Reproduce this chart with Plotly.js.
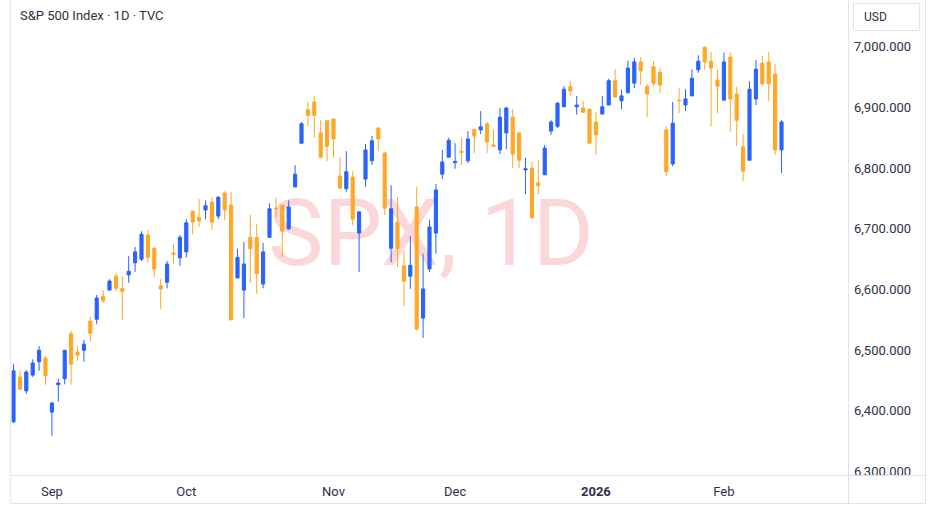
<!DOCTYPE html>
<html>
<head>
<meta charset="utf-8">
<script src="https://cdn.plot.ly/plotly-3.0.1.min.js"></script>
<style>
  html, body { margin: 0; padding: 0; background: #ffffff; }
  #chart { width: 936px; height: 510px; }
</style>
</head>
<body>
<div id="chart"></div>
<script>
// ---- Data ----
const dates = [
  '2025-08-22','2025-08-25','2025-08-26','2025-08-27','2025-08-28','2025-08-29',
  '2025-09-02','2025-09-03','2025-09-04','2025-09-05',
  '2025-09-08','2025-09-09','2025-09-10','2025-09-11','2025-09-12',
  '2025-09-15','2025-09-16','2025-09-17','2025-09-18','2025-09-19',
  '2025-09-22','2025-09-23','2025-09-24','2025-09-25','2025-09-26',
  '2025-09-29','2025-09-30',
  '2025-10-01','2025-10-02','2025-10-03',
  '2025-10-06','2025-10-07','2025-10-08','2025-10-09','2025-10-10',
  '2025-10-13','2025-10-14','2025-10-15','2025-10-16','2025-10-17',
  '2025-10-20','2025-10-21','2025-10-22','2025-10-23','2025-10-24',
  '2025-10-27','2025-10-28','2025-10-29','2025-10-30','2025-10-31',
  '2025-11-03','2025-11-04','2025-11-05','2025-11-06','2025-11-07',
  '2025-11-10','2025-11-11','2025-11-12','2025-11-13','2025-11-14',
  '2025-11-17','2025-11-18','2025-11-19','2025-11-20','2025-11-21',
  '2025-11-24','2025-11-25','2025-11-26','2025-11-28',
  '2025-12-01','2025-12-02','2025-12-03','2025-12-04','2025-12-05',
  '2025-12-08','2025-12-09','2025-12-10','2025-12-11','2025-12-12',
  '2025-12-15','2025-12-16','2025-12-17','2025-12-18','2025-12-19',
  '2025-12-22','2025-12-23','2025-12-24','2025-12-26',
  '2025-12-29','2025-12-30','2025-12-31',
  '2026-01-02',
  '2026-01-05','2026-01-06','2026-01-07','2026-01-08','2026-01-09',
  '2026-01-12','2026-01-13','2026-01-14','2026-01-15','2026-01-16',
  '2026-01-20','2026-01-21','2026-01-22','2026-01-23',
  '2026-01-26','2026-01-27','2026-01-28','2026-01-29','2026-01-30',
  '2026-02-02','2026-02-03','2026-02-04','2026-02-05','2026-02-06',
  '2026-02-09','2026-02-10','2026-02-11','2026-02-12','2026-02-13'
];
const openVals = [
  6382,6456,6433,6459,6481,6487,6398,6443,6453,6527,
  6497,6500,6548,6551,6589,6599,6622,6602,6624,6644,
  6650,6690,6668,6606,6612,6660,6652,6662,6729,6719,
  6731,6744,6721,6759,6739,6619,6599,6686,6686,6609,
  6686,6734,6739,6700,6769,6841,6896,6909,6858,6878,
  6881,6787,6766,6785,6693,6782,6812,6866,6825,6668,
  6711,6639,6622,6736,6553,6634,6693,6790,6818,6809,
  6828,6812,6864,6863,6873,6838,6830,6858,6884,6858,
  6797,6800,6776,6789,6861,6869,6901,6934,6901,6899,
  6897,6876,6889,6904,6944,6911,6924,6940,6975,6935,
  6967,6958,6863,6807,6912,6904,6919,6962,6999,6976,
  6945,6912,6983,6922,6835,6813,6914,6973,6975,6955,
  6830
];
const highVals = [
  6477,6466,6467,6485,6507,6490,6415,6453,6500,6532,
  6507,6517,6555,6591,6599,6617,6626,6622,6655,6670,
  6696,6698,6670,6617,6647,6675,6690,6716,6729,6749,
  6747,6752,6754,6762,6761,6667,6678,6723,6708,6677,
  6742,6751,6739,6747,6805,6876,6909,6919,6879,6878,
  6881,6818,6828,6795,6728,6840,6853,6868,6827,6772,
  6752,6665,6688,6769,6659,6715,6774,6830,6850,6841,
  6850,6861,6864,6894,6876,6863,6899,6901,6897,6860,
  6817,6810,6813,6838,6879,6909,6935,6944,6919,6911,
  6899,6892,6919,6947,6963,6929,6977,6982,6983,6939,
  6976,6965,6869,6909,6932,6930,6963,6986,7001,6991,
  6962,6990,6991,6934,6856,6943,6978,6985,6991,6972,
  6879
];
const lowVals = [
  6380,6434,6428,6456,6466,6443,6359,6415,6444,6443,
  6482,6481,6515,6543,6578,6599,6597,6550,6611,6629,
  6647,6644,6621,6568,6602,6642,6639,6653,6691,6703,
  6716,6698,6716,6714,6550,6619,6553,6611,6593,6602,
  6686,6719,6653,6698,6769,6841,6869,6850,6818,6812,
  6818,6766,6761,6706,6629,6769,6805,6828,6723,6645,
  6637,6573,6601,6532,6520,6629,6659,6782,6818,6799,
  6805,6808,6825,6856,6825,6835,6823,6831,6800,6800,
  6757,6718,6757,6789,6855,6866,6901,6919,6888,6891,
  6841,6822,6889,6904,6917,6897,6924,6932,6937,6884,
  6935,6924,6787,6803,6891,6894,6919,6957,6962,6869,
  6891,6912,6860,6836,6779,6813,6904,6935,6911,6822,
  6792
];
const closeVals = [
  6466,6436,6464,6479,6500,6458,6413,6446,6500,6477,
  6492,6510,6528,6586,6581,6614,6602,6597,6630,6662,
  6691,6653,6634,6601,6642,6658,6686,6710,6711,6713,
  6738,6711,6752,6731,6550,6653,6642,6667,6626,6662,
  6733,6733,6696,6736,6790,6873,6887,6887,6818,6836,
  6848,6767,6794,6716,6728,6830,6845,6848,6734,6733,
  6668,6614,6640,6535,6601,6703,6764,6810,6846,6811,
  6826,6848,6853,6868,6843,6836,6884,6899,6823,6813,
  6799,6718,6771,6833,6876,6907,6930,6927,6904,6892,
  6841,6855,6901,6944,6917,6919,6965,6975,6960,6922,
  6940,6937,6794,6874,6911,6914,6948,6976,6975,6965,
  6935,6975,6914,6879,6795,6930,6963,6939,6939,6830,
  6876
];
const monthTickDates = ['2025-09-02','2025-10-01','2025-11-03','2025-12-01','2026-01-02','2026-02-02'];
const monthTickLabels = ['Sep','Oct','Nov','Dec','<b>2026</b>','Feb'];
const priceTicks = [6300,6400,6500,6600,6700,6800,6900,7000];
const titleText = 'S&P 500 Index · 1D · TVC';
const watermarkText = 'SPX, 1D';
const currencyText = 'USD';

// ---- Styling ----
const FONT = 'Roboto, "Liberation Sans", sans-serif';
const TEXT_COLOR = '#2c3247';
const UP = '#2962FF';
const DOWN = '#FFA726';
const BORDER = '#e0e3eb';

// pixel helpers for the paper frame (plot area 11..848 x 0..475)
const L = 11, R = 88, T = 0, B = 35, W = 936, H = 510;
const PW = W - L - R, PH = H - T - B;
const px = v => (v - L) / PW;
const py = v => (H - B - v) / PH;

const watermark = {
  type: 'scatter', mode: 'text',
  x: [px(431)], y: [py(242)],
  text: [watermarkText],
  textfont: { family: FONT, size: 93, color: 'rgba(242,54,69,0.2)' },
  textposition: 'middle center',
  hoverinfo: 'skip', showlegend: false, cliponaxis: false,
  xaxis: 'x', yaxis: 'y'
};

const candles = {
  type: 'candlestick',
  x: dates, open: openVals, high: highVals, low: lowVals, close: closeVals,
  xaxis: 'x2', yaxis: 'y2',
  increasing: { line: { color: UP, width: 1 }, fillcolor: UP },
  decreasing: { line: { color: DOWN, width: 1 }, fillcolor: DOWN },
  whiskerwidth: 0,
  showlegend: false
};

const layout = {
  width: W, height: H,
  margin: { l: L, r: R, t: T, b: B, pad: 0 },
  paper_bgcolor: '#ffffff', plot_bgcolor: '#ffffff',
  showlegend: false,
  boxgap: 0.3,
  font: { family: FONT, size: 13, color: TEXT_COLOR },
  xaxis: { range: [0, 1], visible: false, fixedrange: true },
  yaxis: { range: [0, 1], visible: false, fixedrange: true },
  xaxis2: {
    overlaying: 'x', type: 'category',
    range: [-0.39, 130.39],
    tickmode: 'array', tickvals: monthTickDates, ticktext: monthTickLabels,
    showgrid: false, zeroline: false, showline: false, ticks: '',
    ticklabelstandoff: 7,
    tickfont: { family: FONT, size: 13, color: TEXT_COLOR },
    rangeslider: { visible: false }
  },
  yaxis2: {
    overlaying: 'y', side: 'right', anchor: 'x2',
    range: [6294.4, 7077],
    tickmode: 'array', tickvals: priceTicks, tickformat: ',.3f',
    showgrid: false, zeroline: false, showline: false, ticks: '',
    ticklabelstandoff: 5,
    tickfont: { family: FONT, size: 13, color: TEXT_COLOR }
  },
  shapes: [
    // cover below the plot on the price scale (clips the lowest label)
    { type: 'rect', xref: 'paper', yref: 'paper', layer: 'above',
      x0: px(849), x1: px(925.5), y0: py(509), y1: py(475.5),
      fillcolor: '#ffffff', line: { width: 0 } },
    // frame lines
    { type: 'line', xref: 'paper', yref: 'paper', layer: 'above',
      x0: px(10), x1: px(926), y0: py(475.5), y1: py(475.5), line: { color: BORDER, width: 1 } },
    { type: 'line', xref: 'paper', yref: 'paper', layer: 'above',
      x0: px(10), x1: px(926), y0: py(503.5), y1: py(503.5), line: { color: BORDER, width: 1 } },
    { type: 'line', xref: 'paper', yref: 'paper', layer: 'above',
      x0: px(10.5), x1: px(10.5), y0: py(0), y1: py(503.5), line: { color: '#eef0f4', width: 2 } },
    { type: 'line', xref: 'paper', yref: 'paper', layer: 'above',
      x0: px(848.5), x1: px(848.5), y0: py(0), y1: py(503.5), line: { color: BORDER, width: 1 } },
    { type: 'line', xref: 'paper', yref: 'paper', layer: 'above',
      x0: px(925.5), x1: px(925.5), y0: py(0), y1: py(503.5), line: { color: BORDER, width: 1 } },
    // USD box
    { type: 'rect', xref: 'paper', yref: 'paper', layer: 'above',
      x0: px(853.5), x1: px(919.5), y0: py(30.5), y1: py(3.5),
      fillcolor: '#ffffff', line: { color: BORDER, width: 1 } }
  ],
  annotations: [
    { text: titleText, xref: 'paper', yref: 'paper', x: px(18), y: py(16),
      xanchor: 'left', yanchor: 'middle', showarrow: false,
      font: { family: FONT, size: 13, color: TEXT_COLOR } },
    { text: currencyText, xref: 'paper', yref: 'paper', x: px(862), y: py(17),
      xanchor: 'left', yanchor: 'middle', showarrow: false,
      font: { family: FONT, size: 12, color: TEXT_COLOR } }
  ]
};

Plotly.newPlot('chart', [watermark, candles], layout, { displayModeBar: false, staticPlot: true });
</script>
</body>
</html>
